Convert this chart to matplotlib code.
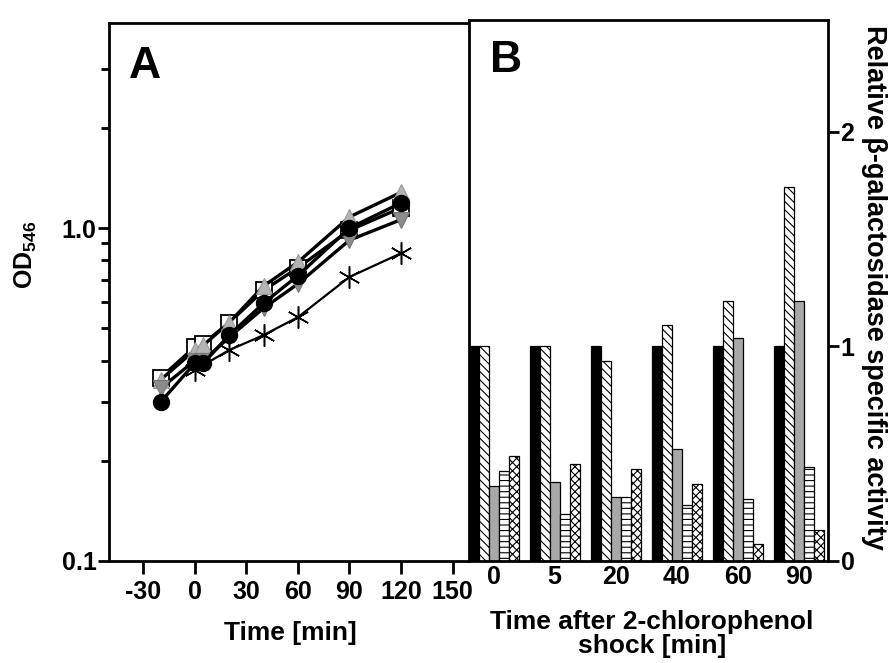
import matplotlib
matplotlib.use("Agg")
import matplotlib.pyplot as plt
import numpy as np
from matplotlib.ticker import FixedLocator, NullFormatter, FixedFormatter

plt.rcParams['font.family'] = ['Liberation Sans', 'DejaVu Sans']
plt.rcParams['font.weight'] = 'bold'
plt.rcParams['mathtext.fontset'] = 'custom'
plt.rcParams['mathtext.rm'] = 'Liberation Sans:bold'
plt.rcParams['mathtext.bf'] = 'Liberation Sans:bold'
plt.rcParams['hatch.linewidth'] = 0.8

# ---- Panel A data (OD546 vs time) ----
time_full = [-20, 0, 5, 20, 40, 60, 90, 120]
od_square = [0.355, 0.44, 0.45, 0.52, 0.65, 0.76, 0.985, 1.15]
od_up = [0.35, 0.43, 0.445, 0.52, 0.67, 0.79, 1.08, 1.28]
od_down = [0.33, 0.40, 0.40, 0.47, 0.575, 0.68, 0.92, 1.06]
od_circle = [0.30, 0.393, 0.393, 0.477, 0.595, 0.72, 1.0, 1.19]
time_star = [0, 20, 40, 60, 90, 120]
od_star = [0.375, 0.43, 0.477, 0.54, 0.713, 0.84]
a_xticks = [-30, 0, 30, 60, 90, 120, 150]

# ---- Panel B data (relative beta-galactosidase activity) ----
b_categories = ['0', '5', '20', '40', '60', '90']
b_black = [1.0, 1.0, 1.0, 1.0, 1.0, 1.0]
b_diag = [1.0, 1.0, 0.93, 1.10, 1.21, 1.74]
b_gray = [0.35, 0.37, 0.30, 0.52, 1.04, 1.21]
b_horiz = [0.42, 0.22, 0.30, 0.26, 0.29, 0.44]
b_cross = [0.49, 0.45, 0.43, 0.36, 0.08, 0.145]

W, H = 891, 663
fig = plt.figure(figsize=(W / 100, H / 100), dpi=100)

def fx(px):
    return px / W

def fy(py):
    return 1 - py / H

TICK_FS = 18

# Panel A axes
axA = fig.add_axes([fx(109), fy(561), fx(468) - fx(109), fy(23) - fy(561)])
axA.set_yscale('log')
axA.set_ylim(0.1, 4.13)
axA.set_xlim(-50, 159)

lw_thick = 2.4
axA.plot(time_full, od_square, '-', color='black', lw=lw_thick, marker='s', ms=11,
         mfc='white', mec='black', mew=1.3, zorder=3)
axA.plot(time_full, od_up, '-', color='black', lw=lw_thick, marker='^', ms=12,
         mfc='#b4b4b4', mec='#9a9a9a', mew=0.8, zorder=4)
axA.plot(time_full, od_down, '-', color='black', lw=lw_thick, marker='v', ms=12,
         mfc='#8c8c8c', mec='#777777', mew=0.8, zorder=4)
axA.plot(time_full, od_circle, '-', color='black', lw=lw_thick, marker='o', ms=11.5,
         mfc='black', mec='black', zorder=5)
axA.plot(time_star, od_star, '-', color='black', lw=1.6, marker=(6, 2, 0), ms=16,
         mec='black', mew=1.1, zorder=6)

axA.yaxis.set_major_locator(FixedLocator([0.1, 1.0]))
axA.yaxis.set_major_formatter(FixedFormatter(['0.1', '1.0']))
axA.yaxis.set_minor_locator(FixedLocator([0.2, 0.3, 0.4, 0.5, 0.6, 0.7, 0.8, 0.9, 2, 3]))
axA.yaxis.set_minor_formatter(NullFormatter())
axA.set_xticks(a_xticks)
axA.set_xticklabels([str(v) for v in a_xticks])
axA.tick_params(axis='both', which='major', direction='out', width=2, labelsize=TICK_FS)
axA.tick_params(axis='y', which='major', length=8, pad=1)
axA.tick_params(axis='y', which='minor', length=6, width=2)
axA.tick_params(axis='x', which='major', length=9, pad=5)
for s in ['left', 'bottom', 'top']:
    axA.spines[s].set_linewidth(2)
axA.spines['right'].set_visible(False)
axA.text(0.055, 0.92, 'A', transform=axA.transAxes, fontsize=32, fontweight='bold',
         ha='left', va='center')

# Panel B axes
axB = fig.add_axes([fx(468.5), fy(561), fx(828) - fx(468.5), fy(20) - fy(561)])
n = len(b_categories)
x = np.arange(n)
bw = 0.164
series = [
    (b_black, dict(color='black', edgecolor='black')),
    (b_diag, dict(color='white', edgecolor='black', hatch='\\\\\\\\')),
    (b_gray, dict(color='#a8a8a8', edgecolor='black')),
    (b_horiz, dict(color='white', edgecolor='black', hatch='---')),
    (b_cross, dict(color='white', edgecolor='black', hatch='xxxx')),
]
for k, (vals, kw) in enumerate(series):
    axB.bar(x + (k - 2) * bw, vals, width=bw, linewidth=0.9, **kw)

axB.set_xlim(-2.5 * bw, -2.5 * bw + (828 - 468.5) / 61.0)
axB.set_ylim(0, 2.52)
axB.set_xticks(x)
axB.set_xticklabels(b_categories)
axB.tick_params(axis='x', length=0, labelsize=TICK_FS, pad=3)
axB.yaxis.tick_right()
axB.set_yticks([0, 1, 2])
axB.set_yticklabels(['0', '1', '2'])
axB.tick_params(axis='y', direction='out', length=8, width=2, labelsize=TICK_FS, pad=1)
for s in ['left', 'bottom', 'top', 'right']:
    axB.spines[s].set_linewidth(2)
axB.text(0.06, 0.925, 'B', transform=axB.transAxes, fontsize=32, fontweight='bold',
         ha='left', va='center')

# Labels
fig.text(fx(26), fy(255), r'$\mathbf{OD_{546}}$', rotation=90, ha='center', va='center',
         fontsize=18)
fig.text(fx(290), fy(633), 'Time [min]', ha='center', va='center', fontsize=19,
         fontweight='bold')
fig.text(fx(652), fy(634), 'Time after 2-chlorophenol\nshock [min]', ha='center',
         va='center', fontsize=19, fontweight='bold', linespacing=1.0)
fig.text(fx(874), fy(287), 'Relative β-galactosidase specific activity', rotation=270,
         ha='center', va='center', fontsize=19.5, fontweight='bold')

fig.savefig('out.png', dpi=100)
